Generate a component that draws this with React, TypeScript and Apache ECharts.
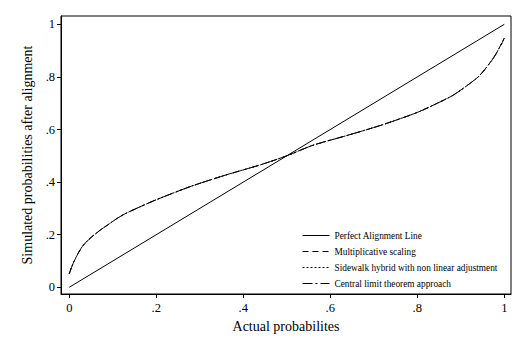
import React, { useEffect, useRef } from "react";
import * as echarts from "echarts";

const perfectX = [0, 1];
const perfectY = [0, 1];

const curveX = [0, 0.005, 0.01, 0.02, 0.03, 0.045, 0.06, 0.075, 0.09, 0.11, 0.13, 0.16, 0.2, 0.28, 0.36, 0.44, 0.5, 0.56, 0.64, 0.72, 0.8, 0.85, 0.88, 0.9, 0.92, 0.94, 0.955, 0.97, 0.98, 0.99, 0.995, 1.0];
const multiplicativeY = [0.052, 0.075, 0.095, 0.128, 0.155, 0.182, 0.203, 0.222, 0.239, 0.262, 0.281, 0.304, 0.333, 0.384, 0.427, 0.466, 0.5, 0.54, 0.578, 0.618, 0.665, 0.703, 0.728, 0.75, 0.774, 0.8, 0.828, 0.86, 0.885, 0.915, 0.93, 0.948];
const sidewalkY = [0.052, 0.075, 0.095, 0.128, 0.155, 0.182, 0.203, 0.222, 0.239, 0.262, 0.281, 0.304, 0.333, 0.384, 0.427, 0.466, 0.5, 0.54, 0.578, 0.618, 0.665, 0.703, 0.728, 0.75, 0.774, 0.8, 0.828, 0.86, 0.885, 0.915, 0.93, 0.948];
const cltY = [0.052, 0.075, 0.095, 0.128, 0.155, 0.182, 0.203, 0.222, 0.239, 0.262, 0.281, 0.304, 0.333, 0.384, 0.427, 0.466, 0.5, 0.54, 0.578, 0.618, 0.665, 0.703, 0.728, 0.75, 0.774, 0.8, 0.828, 0.86, 0.885, 0.915, 0.93, 0.948];

const tickValues = [0, 0.2, 0.4, 0.6, 0.8, 1];
const seriesNames = [
  "Perfect Alignment Line",
  "Multiplicative scaling",
  "Sidewalk hybrid with non linear adjustment",
  "Central limit theorem approach",
];

const FONT = "'Liberation Serif', 'Times New Roman', serif";

const fmt = (v: number) => {
  if (Math.abs(v) < 1e-9) return "0";
  if (Math.abs(v - 1) < 1e-9) return "1";
  return "." + String(Math.round(v * 10));
};

const zip = (xs: number[], ys: number[]) => xs.map((x, i) => [x, ys[i]]);

export default function App() {
  const ref = useRef<HTMLDivElement>(null);
  useEffect(() => {
    if (!ref.current) return;
    const chart = echarts.init(ref.current, undefined, { renderer: "svg" });
    const lineBase = { type: "line", symbol: "none", animation: false, smooth: 0.25 };
    chart.setOption({
      animation: false,
      backgroundColor: "#ffffff",
      grid: {
        left: 61,
        top: 16,
        right: 18,
        bottom: 62,
        show: true,
        borderColor: "#000",
        borderWidth: 1,
        backgroundColor: "transparent",
      },
      xAxis: {
        type: "value",
        min: -0.019,
        max: 1.0154,
        name: "Actual probabilites",
        nameLocation: "middle",
        nameGap: 25,
        nameTextStyle: { fontFamily: FONT, fontSize: 14, color: "#000" },
        axisLine: { show: true, onZero: false, lineStyle: { color: "#000", width: 1 } },
        axisTick: { show: true, customValues: tickValues, length: 4, lineStyle: { color: "#000" } },
        axisLabel: {
          customValues: tickValues,
          formatter: fmt,
          fontFamily: FONT,
          fontSize: 12.5,
          color: "#000",
          margin: 7,
        },
        splitLine: { show: false },
      },
      yAxis: {
        type: "value",
        min: -0.0255,
        max: 1.0316,
        name: "Simulated probabilities after alignment",
        nameLocation: "middle",
        nameGap: 27,
        nameRotate: 90,
        nameTextStyle: { fontFamily: FONT, fontSize: 14, color: "#000" },
        axisLine: { show: true, onZero: false, lineStyle: { color: "#000", width: 1 } },
        axisTick: { show: true, customValues: tickValues, length: 4, lineStyle: { color: "#000" } },
        axisLabel: {
          customValues: tickValues,
          formatter: fmt,
          fontFamily: FONT,
          fontSize: 12.5,
          color: "#000",
          margin: 6,
        },
        splitLine: { show: false },
      },
      legend: {
        orient: "vertical",
        left: 297,
        top: 226,
        itemWidth: 27,
        itemHeight: 10,
        itemGap: 7,
        data: seriesNames,
        itemStyle: { opacity: 0 },
        lineStyle: { width: 1 },
        textStyle: { fontFamily: FONT, fontSize: 9.3, color: "#000" },
      },
      series: [
        {
          ...lineBase,
          smooth: false,
          name: seriesNames[0],
          data: zip(perfectX, perfectY),
          lineStyle: { color: "#000", width: 1, type: "solid" },
          itemStyle: { color: "#000" },
        },
        {
          ...lineBase,
          name: seriesNames[1],
          data: zip(curveX, multiplicativeY),
          lineStyle: { color: "#000", width: 1, type: [6, 4] },
          itemStyle: { color: "#000" },
        },
        {
          ...lineBase,
          name: seriesNames[2],
          data: zip(curveX, sidewalkY),
          lineStyle: { color: "#000", width: 1, type: [2, 2] },
          itemStyle: { color: "#000" },
        },
        {
          ...lineBase,
          name: seriesNames[3],
          data: zip(curveX, cltY),
          lineStyle: { color: "#000", width: 1, type: [10, 3, 2, 3] },
          itemStyle: { color: "#000" },
        },
      ],
    });
    return () => chart.dispose();
  }, []);
  return <div ref={ref} style={{ width: 529, height: 356, position: "absolute", left: 0, top: 0 }} />;
}
